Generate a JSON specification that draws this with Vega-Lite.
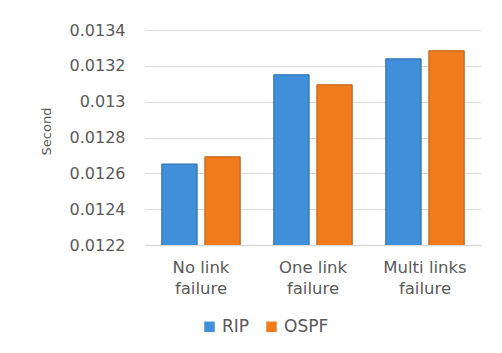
{
  "$schema": "https://vega.github.io/schema/vega-lite/v6.json",
  "width": 336,
  "height": 215,
  "autosize": {"type": "none"},
  "padding": {"left": 145, "top": 30, "right": 21, "bottom": 108},
  "background": "white",
  "config": {
    "view": {"stroke": null},
    "font": "DejaVu Sans",
    "axis": {"labelColor": "#595959", "titleColor": "#595959", "labelFont": "DejaVu Sans", "titleFont": "DejaVu Sans"},
    "legend": {"labelFont": "DejaVu Sans"}
  },
  "data": {
    "values": [
      {"scenario": "No link failure", "protocol": "RIP", "value": 0.012652},
      {"scenario": "No link failure", "protocol": "OSPF", "value": 0.012692},
      {"scenario": "One link failure", "protocol": "RIP", "value": 0.01315},
      {"scenario": "One link failure", "protocol": "OSPF", "value": 0.013094},
      {"scenario": "Multi links failure", "protocol": "RIP", "value": 0.013239},
      {"scenario": "Multi links failure", "protocol": "OSPF", "value": 0.013284}
    ]
  },
  "mark": {"type": "bar", "strokeWidth": 1, "clip": true},
  "encoding": {
    "x": {
      "field": "scenario",
      "type": "nominal",
      "sort": ["No link failure", "One link failure", "Multi links failure"],
      "scale": {"paddingInner": 0.3, "paddingOuter": 0.15},
      "axis": {
        "title": null,
        "labelAngle": 0,
        "labelFontSize": 16.5,
        "labelPadding": 14,
        "labelLineHeight": 21,
        "labelExpr": "datum.label == 'No link failure' ? ['No link', 'failure'] : datum.label == 'One link failure' ? ['One link', 'failure'] : ['Multi links', 'failure']",
        "ticks": false,
        "domainColor": "#d9d9d9",
        "domainWidth": 1.5
      }
    },
    "xOffset": {
      "field": "protocol",
      "type": "nominal",
      "sort": ["RIP", "OSPF"],
      "scale": {"paddingInner": 0.18}
    },
    "y": {
      "field": "value",
      "type": "quantitative",
      "scale": {"domain": [0.0122, 0.0134], "zero": false, "nice": false},
      "axis": {
        "title": "Second",
        "titleFontSize": 13,
        "titleFontWeight": "normal",
        "titleX": -99,
        "titleY": 101,
        "titleAngle": -90,
        "titleAlign": "center",
        "titleBaseline": "middle",
        "values": [0.0122, 0.0124, 0.0126, 0.0128, 0.013, 0.0132, 0.0134],
        "format": ".4~f",
        "labelFontSize": 16,
        "labelPadding": 20,
        "ticks": false,
        "domain": false,
        "gridColor": "#d9d9d9",
        "gridWidth": 1.2
      }
    },
    "color": {
      "field": "protocol",
      "type": "nominal",
      "sort": ["RIP", "OSPF"],
      "scale": {"domain": ["RIP", "OSPF"], "range": ["#3f8fdb", "#f27c1c"]},
      "legend": {
        "title": null,
        "orient": "none",
        "direction": "horizontal",
        "legendX": 56,
        "legendY": 288,
        "symbolType": "square",
        "symbolSize": 110,
        "symbolStrokeWidth": 0,
        "labelFontSize": 17,
        "labelOffset": 4,
        "labelColor": "#595959",
        "columnPadding": 13
      }
    },
    "stroke": {
      "field": "protocol",
      "type": "nominal",
      "scale": {"domain": ["RIP", "OSPF"], "range": ["#2a6aa8", "#b85a10"]},
      "legend": null
    }
  }
}
